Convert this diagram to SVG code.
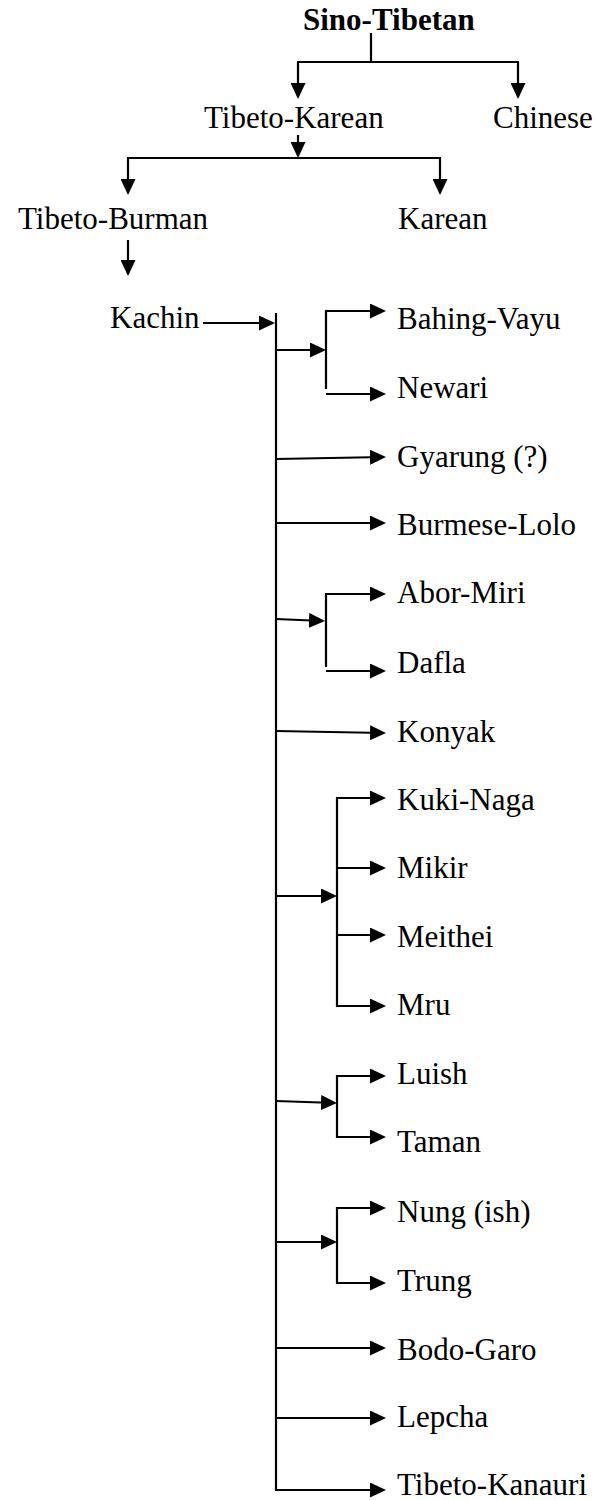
<svg xmlns="http://www.w3.org/2000/svg" width="597" height="1500" viewBox="0 0 597 1500">
  <style>
    text { font-family: "Liberation Serif", "Times New Roman", serif; font-size: 31px; fill: #000; }
    .bold { font-weight: bold; }
    .ln { stroke: #000; stroke-width: 2.2; fill: none; }
    .ar { stroke: #000; stroke-width: 2.2; fill: none; marker-end: url(#head); }
  </style>
  <defs>
    <marker id="head" markerUnits="userSpaceOnUse" markerWidth="16" markerHeight="15" refX="14" refY="7.5" orient="auto">
      <path d="M0,0 L16,7.5 L0,15 z" fill="#000"/>
    </marker>
  </defs>
  <rect width="597" height="1500" fill="#fff"/>

  <!-- connectors -->
  <g id="connectors">
    <!-- Sino-Tibetan split -->
    <line class="ln" x1="371" y1="33" x2="371" y2="62"/>
    <line class="ln" x1="297" y1="62" x2="519" y2="62"/>
    <line class="ar" x1="298" y1="62" x2="298" y2="97"/>
    <line class="ar" x1="518" y1="62" x2="518" y2="97"/>
    <!-- Tibeto-Karean split -->
    <line class="ar" x1="298" y1="135" x2="298" y2="156"/>
    <line class="ln" x1="127" y1="158" x2="441" y2="158"/>
    <line class="ar" x1="128" y1="158" x2="128" y2="193"/>
    <line class="ar" x1="440" y1="158" x2="440" y2="193"/>
    <!-- Tibeto-Burman to Kachin -->
    <line class="ar" x1="128" y1="240" x2="128" y2="274"/>
    <!-- Kachin to trunk -->
    <line class="ar" x1="203" y1="323" x2="273" y2="323"/>
    <line class="ln" x1="276" y1="313" x2="276" y2="1491"/>

    <!-- Bahing-Vayu / Newari -->
    <line class="ar" x1="276" y1="350" x2="324" y2="350"/>
    <polyline class="ln" points="326,389 326,311 374,311"/>
    <line class="ar" x1="326" y1="311" x2="384" y2="311"/>
    <line class="ar" x1="326" y1="394" x2="384" y2="394"/>
    <!-- Gyarung, Burmese-Lolo -->
    <line class="ar" x1="276" y1="459" x2="384" y2="457"/>
    <line class="ar" x1="276" y1="523" x2="384" y2="523"/>
    <!-- Abor-Miri / Dafla -->
    <line class="ar" x1="276" y1="619" x2="323" y2="621"/>
    <line class="ln" x1="326" y1="593" x2="326" y2="667"/>
    <line class="ar" x1="325" y1="594" x2="384" y2="594"/>
    <line class="ar" x1="326" y1="671" x2="384" y2="671"/>
    <!-- Konyak -->
    <line class="ar" x1="276" y1="731" x2="384" y2="733"/>
    <!-- Kuki-Naga group -->
    <line class="ar" x1="276" y1="896" x2="335" y2="896"/>
    <line class="ln" x1="337" y1="797" x2="337" y2="1007"/>
    <line class="ar" x1="336" y1="798" x2="384" y2="798"/>
    <line class="ar" x1="337" y1="868" x2="384" y2="868"/>
    <line class="ar" x1="337" y1="935" x2="384" y2="935"/>
    <line class="ar" x1="336" y1="1006" x2="384" y2="1006"/>
    <!-- Luish / Taman -->
    <line class="ar" x1="276" y1="1101" x2="335" y2="1103"/>
    <line class="ln" x1="337" y1="1075" x2="337" y2="1138"/>
    <line class="ar" x1="336" y1="1076" x2="384" y2="1076"/>
    <line class="ar" x1="336" y1="1137" x2="384" y2="1137"/>
    <!-- Nung / Trung -->
    <line class="ar" x1="276" y1="1242" x2="335" y2="1242"/>
    <line class="ln" x1="337" y1="1207" x2="337" y2="1284"/>
    <line class="ar" x1="336" y1="1208" x2="384" y2="1208"/>
    <line class="ar" x1="336" y1="1283" x2="384" y2="1283"/>
    <!-- Bodo-Garo, Lepcha, Tibeto-Kanauri -->
    <line class="ar" x1="276" y1="1348" x2="384" y2="1348"/>
    <line class="ar" x1="276" y1="1418" x2="384" y2="1418"/>
    <line class="ar" x1="275" y1="1490" x2="384" y2="1490"/>
  </g>

  <!-- upper tree -->
  <g id="sino-tibetan"><text class="bold" x="303" y="30">Sino-Tibetan</text></g>
  <g id="tibeto-karean"><text x="204" y="128">Tibeto-Karean</text></g>
  <g id="chinese"><text x="493" y="128">Chinese</text></g>
  <g id="tibeto-burman"><text x="18" y="229">Tibeto-Burman</text></g>
  <g id="karean"><text x="398" y="229">Karean</text></g>
  <g id="kachin"><text x="110" y="328">Kachin</text></g>

  <!-- branches of the trunk -->
  <g id="bahing-vayu"><text x="397" y="329">Bahing-Vayu</text></g>
  <g id="newari"><text x="397" y="398">Newari</text></g>
  <g id="gyarung"><text x="397" y="467">Gyarung (?)</text></g>
  <g id="burmese-lolo"><text x="397" y="535">Burmese-Lolo</text></g>
  <g id="abor-miri"><text x="397" y="603">Abor-Miri</text></g>
  <g id="dafla"><text x="397" y="673">Dafla</text></g>
  <g id="konyak"><text x="397" y="742">Konyak</text></g>
  <g id="kuki-naga"><text x="397" y="810">Kuki-Naga</text></g>
  <g id="mikir"><text x="397" y="878">Mikir</text></g>
  <g id="meithei"><text x="397" y="947">Meithei</text></g>
  <g id="mru"><text x="397" y="1015">Mru</text></g>
  <g id="luish"><text x="397" y="1084">Luish</text></g>
  <g id="taman"><text x="397" y="1152">Taman</text></g>
  <g id="nung"><text x="397" y="1222">Nung (ish)</text></g>
  <g id="trung"><text x="397" y="1291">Trung</text></g>
  <g id="bodo-garo"><text x="397" y="1360">Bodo-Garo</text></g>
  <g id="lepcha"><text x="397" y="1427">Lepcha</text></g>
  <g id="tibeto-kanauri"><text x="397" y="1495">Tibeto-Kanauri</text></g>
</svg>
